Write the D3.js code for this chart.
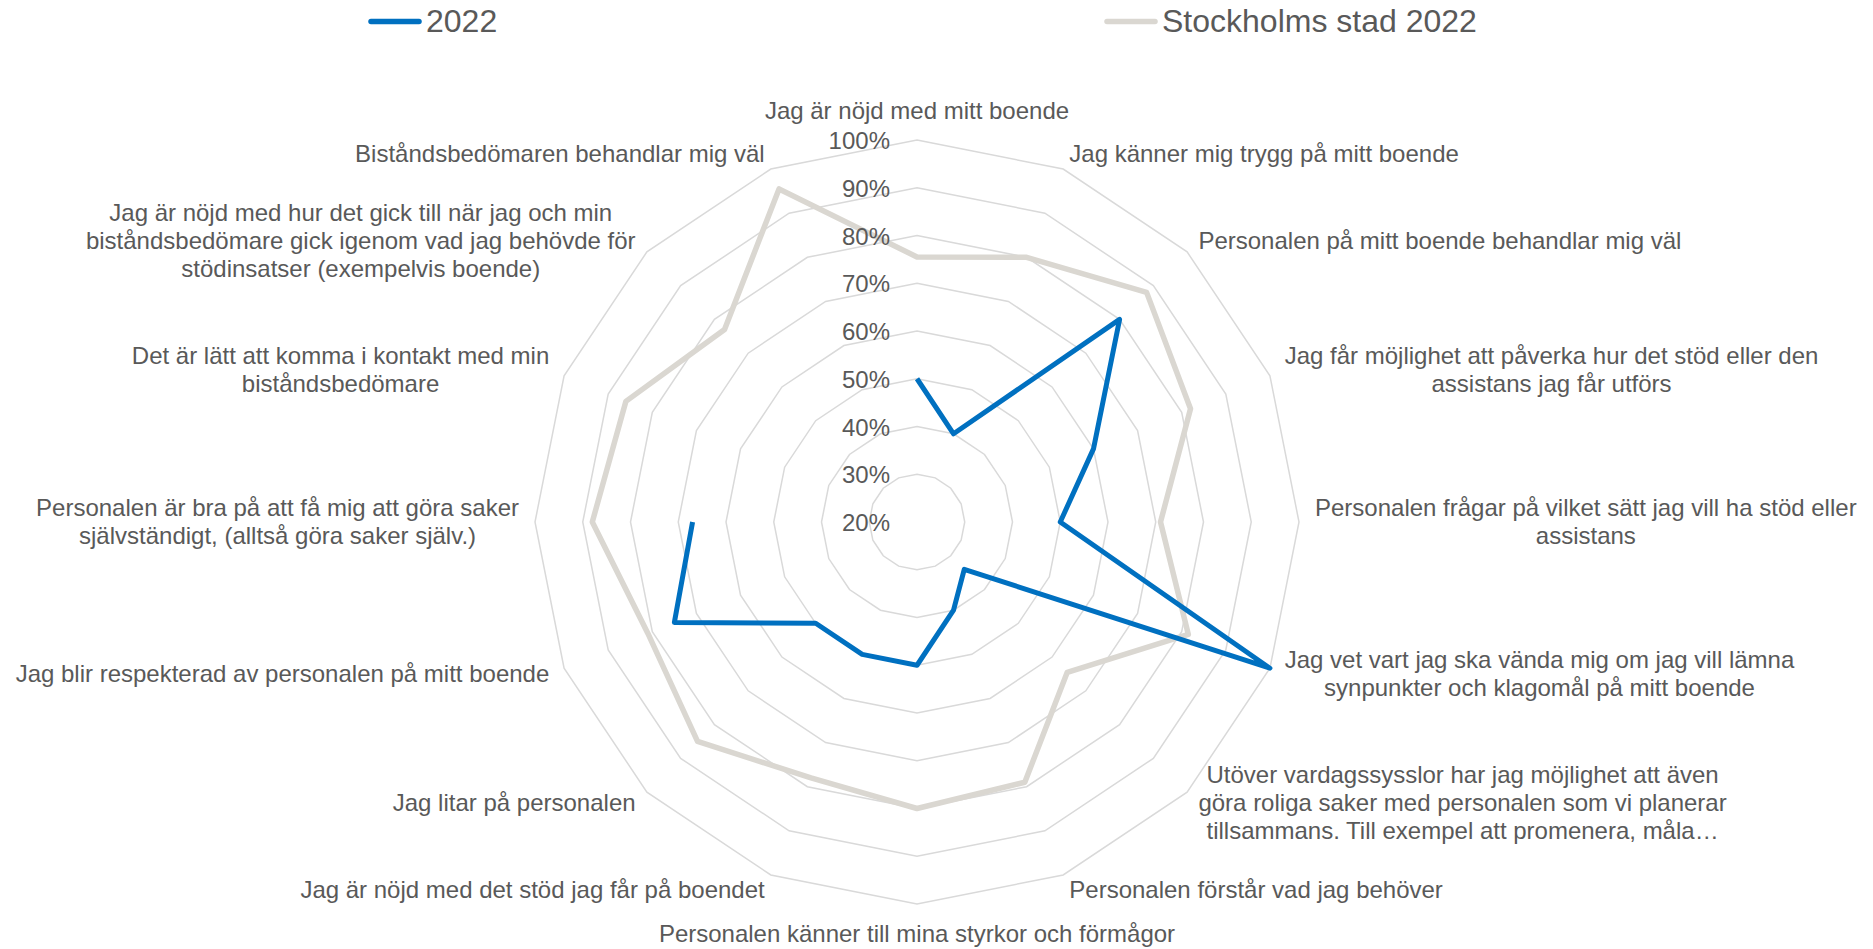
<!DOCTYPE html>
<html>
<head>
<meta charset="utf-8">
<script src="https://cdn.jsdelivr.net/npm/d3@7"></script>
<style>
  body { margin: 0; background: #fff; }
  #chart text { font-family: "Liberation Sans", Arial, sans-serif; fill: #595959; }
</style>
</head>
<body>
<div id="chart"></div>
<script>
// Size of the page
var width = 1873;
var height = 949;

// Categories, one array of wrapped lines per spoke (clockwise from top)
var categories = [
    ["Jag är nöjd med mitt boende"],
    ["Jag känner mig trygg på mitt boende"],
    ["Personalen på mitt boende behandlar mig väl"],
    ["Jag får möjlighet att påverka hur det stöd eller den", "assistans jag får utförs"],
    ["Personalen frågar på vilket sätt jag vill ha stöd eller", "assistans"],
    ["Jag vet vart jag ska vända mig om jag vill lämna", "synpunkter och klagomål på mitt boende"],
    ["Utöver vardagssysslor har jag möjlighet att även", "göra roliga saker med personalen som vi planerar", "tillsammans. Till exempel att promenera, måla…"],
    ["Personalen förstår vad jag behöver"],
    ["Personalen känner till mina styrkor och förmågor"],
    ["Jag är nöjd med det stöd jag får på boendet"],
    ["Jag litar på personalen"],
    ["Jag blir respekterad av personalen på mitt boende"],
    ["Personalen är bra på att få mig att göra saker", "självständigt, (alltså göra saker själv.)"],
    ["Det är lätt att komma i kontakt med min", "biståndsbedömare"],
    ["Jag är nöjd med hur det gick till när jag och min", "biståndsbedömare gick igenom vad jag behövde för", "stödinsatser (exempelvis boende)"],
    ["Biståndsbedömaren behandlar mig väl"]
];

// Series values in percent (null = no answer)
var values2022 = [50, 40, 80, 60, 50, 100, 34, 40, 50, 50, 50, 75, 67, null, null, null];
var valuesStockholm = [75.5, 80, 88, 82, 71, 81.5, 64.5, 79, 80, 78, 85, 81, 88, 86, 77, 95.5];

// Series names and ticks
var seriesNames = ["2022", "Stockholms stad 2022"];
var tickValues = [20, 30, 40, 50, 60, 70, 80, 90, 100];

var svg;

function createSVG(width, height) {
    return d3.select("#chart")
        .append("svg")
        .attr("width", width)
        .attr("height", height);
}

function angleOf(i) {
    return i * 2 * Math.PI / categories.length;
}

function drawRadar() {
    var cx = 917, cy = 522;
    var r = d3.scaleLinear().domain([20, 100]).range([0, 382]);

    var g = svg.append("g").attr("transform", "translate(" + cx + "," + cy + ")");

    // rings (polygons) for each tick except the centre
    var ringLine = d3.lineRadial()
        .angle(function(d, i) { return angleOf(i); })
        .radius(function(d) { return r(d); })
        .curve(d3.curveLinearClosed);

    g.selectAll(".ring")
        .data(tickValues.filter(function(t) { return t > 20; }))
        .enter()
        .append("path")
        .attr("class", "ring")
        .attr("d", function(t) { return ringLine(categories.map(function() { return t; })); })
        .style("fill", "none")
        .style("stroke", "#d9d9d9")
        .style("stroke-width", 1.5);

    // Stockholm series
    var seriesLine = d3.lineRadial()
        .angle(function(d) { return angleOf(d.i); })
        .radius(function(d) { return r(d.v); })
        .defined(function(d) { return d.v != null; });

    g.append("path")
        .datum(valuesStockholm.map(function(v, i) { return { i: i, v: v }; }))
        .attr("d", seriesLine.curve(d3.curveLinearClosed))
        .style("fill", "none")
        .style("stroke", "#dad7d1")
        .style("stroke-width", 5.5)
        .style("stroke-linejoin", "round");

    // 2022 series (open, missing values at the end)
    g.append("path")
        .datum(values2022.map(function(v, i) { return { i: i, v: v }; }))
        .attr("d", seriesLine.curve(d3.curveLinear))
        .style("fill", "none")
        .style("stroke", "#0070c0")
        .style("stroke-width", 5)
        .style("stroke-linejoin", "round");

    // tick labels along the top spoke
    g.selectAll(".tick")
        .data(tickValues)
        .enter()
        .append("text")
        .attr("class", "tick")
        .attr("x", -27)
        .attr("y", function(t) { return -r(t) + 0.5; })
        .attr("text-anchor", "end")
        .attr("dominant-baseline", "central")
        .style("font-size", "24px")
        .text(function(t) { return t + "%"; });

    // category labels
    var labelR = r(100) + 16;
    var lineH = 28;
    categories.forEach(function(lines, i) {
        var a = angleOf(i);
        var s = Math.sin(a), c = Math.cos(a);
        var ax = labelR * s, ay = -labelR * c - 1;
        var n = lines.length;

        var t = g.append("text")
            .attr("dominant-baseline", "central")
            .style("font-size", "24px");
        var spans = t.selectAll("tspan")
            .data(lines)
            .enter()
            .append("tspan")
            .text(function(d) { return d; });

        // widest line, used to centre the lines in a block
        var w = 0;
        spans.each(function() { w = Math.max(w, this.getComputedTextLength()); });

        var midX;
        if (Math.abs(s) < 0.01) midX = ax;
        else if (s > 0) midX = ax + w / 2;
        else midX = ax - w / 2;

        var midY = ay;
        if (Math.abs(s) < 0.01) midY = ay + (c > 0 ? -13 - (n - 1) * lineH / 2 : 14 + (n - 1) * lineH / 2);

        spans.attr("x", midX)
            .attr("y", function(d, k) { return midY + (k - (n - 1) / 2) * lineH; })
            .attr("text-anchor", "middle");
    });
}

function createLegend() {
    var legendData = [
        { text: seriesNames[0], color: "#0070c0", x: 371 },
        { text: seriesNames[1], color: "#dad7d1", x: 1107 }
    ];

    var legend = svg.append("g");

    legend.selectAll("line")
        .data(legendData)
        .enter()
        .append("line")
        .attr("x1", function(d) { return d.x; })
        .attr("x2", function(d) { return d.x + 48; })
        .attr("y1", 21.5)
        .attr("y2", 21.5)
        .style("stroke", function(d) { return d.color; })
        .style("stroke-width", 5.5)
        .style("stroke-linecap", "round");

    legend.selectAll("text")
        .data(legendData)
        .enter()
        .append("text")
        .attr("x", function(d) { return d.x + 55; })
        .attr("y", 21)
        .attr("dominant-baseline", "central")
        .style("font-size", "32px")
        .text(function(d) { return d.text; });
}

function main() {
    svg = createSVG(width, height);
    drawRadar();
    createLegend();
}

window.onload = function() {
    main();
};
</script>
</body>
</html>
